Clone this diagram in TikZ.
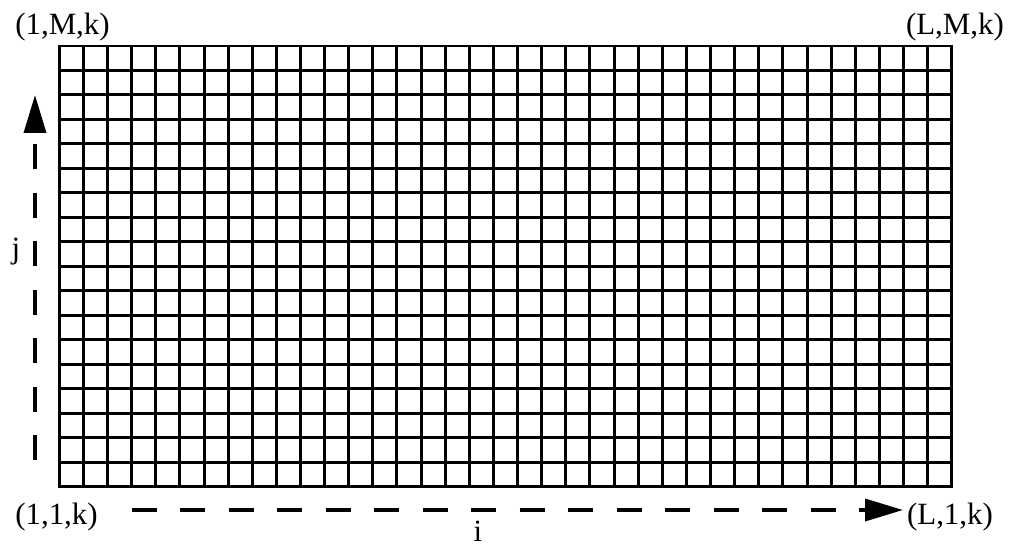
\documentclass[tikz,border=0pt]{standalone}
\usepackage{fontspec}
\setmainfont{Liberation Serif}
\usetikzlibrary{arrows.meta,positioning}
\tikzset{
  gridline/.style={line width=1.7pt, line cap=rect},
  cornerlabel/.style={inner sep=0pt, font=\fontsize{17.6}{20}\selectfont},
  axislabel/.style={inner sep=0pt, font=\fontsize{17.6}{20}\selectfont},
  axisarrow/.style={-{Triangle[length=0.76cm,width=0.44cm]}, line width=2pt,
    dash pattern=on 0.5cm off 0.47cm}
}

\begin{document}
\begin{tikzpicture}[x=0.02cm, y=-0.02cm]
  \useasboundingbox (0,0) rectangle (1009,548);
  % mesh of 37 x 18 cells
  \foreach \c in {0,...,37}
    \draw[gridline] ({59.3+\c*24.12},46) -- ++(0,440.7);
  \foreach \r in {0,...,18}
    \draw[gridline] (59.3,{46+\r*24.48}) -- ++(892.4,0);
  % corner indices
  \node[cornerlabel] (topleft) at (62.5,27.5) {(1,M,k)};
  \node[cornerlabel] (topright) at (955,27.5) {(L,M,k)};
  \node[cornerlabel] (bottomleft) at (56.5,517.5) {(1,1,k)};
  \node[cornerlabel] (bottomright) at (950,517.5) {(L,1,k)};
  % index directions
  \coordinate (jfoot) at (35,460);
  \coordinate (jhead) at (35,95);
  \coordinate (ifoot) at (131.7,510);
  \coordinate (ihead) at (903,510);
  \draw[axisarrow] (jfoot) -- (jhead);
  \draw[axisarrow] (ifoot) -- (ihead);
  \node[axislabel] (jlabel) at (16,252) {j};
  \node[axislabel] (ilabel) at (478,531) {i};
\end{tikzpicture}
\end{document}
